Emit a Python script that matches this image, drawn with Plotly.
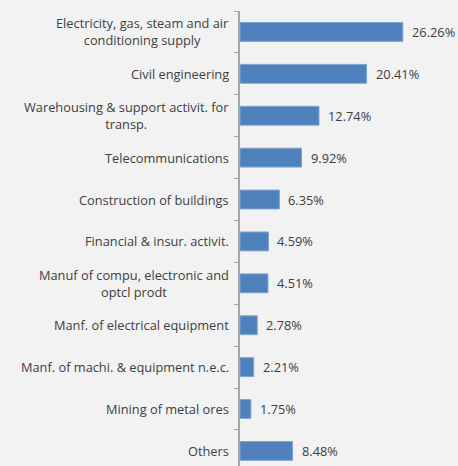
import plotly.graph_objects as go

categories = [
    "Electricity, gas, steam and air<br>conditioning supply",
    "Civil engineering",
    "Warehousing & support activit. for<br>transp.",
    "Telecommunications",
    "Construction of buildings",
    "Financial & insur. activit.",
    "Manuf of compu, electronic and<br>optcl prodt",
    "Manf. of electrical equipment",
    "Manf. of machi. & equipment n.e.c.",
    "Mining of metal ores",
    "Others",
]
shares = [26.26, 20.41, 12.74, 9.92, 6.35, 4.59, 4.51, 2.78, 2.21, 1.75, 8.48]

FONT = "Open Sans"
FONT_SIZE = 12.8
TEXT_COLOR = "#404040"
BAR_COLOR = "#4F81BD"
AXIS_COLOR = "#A6A6A6"

idx = list(range(len(categories)))

fig = go.Figure(
    go.Bar(
        x=shares,
        y=idx,
        orientation="h",
        width=0.45,
        marker=dict(color=BAR_COLOR, line=dict(color="#7FA3D1", width=1)),
        hoverinfo="skip",
    )
)

# value labels to the right of each bar
for i, v in zip(idx, shares):
    fig.add_annotation(
        x=v, y=i, xref="x", yref="y",
        text=f"{v:.2f}%", showarrow=False,
        xanchor="left", xshift=7,
        font=dict(family=FONT, size=FONT_SIZE, color=TEXT_COLOR),
    )

# category labels, centred line by line and right-aligned to the axis
for i, c in zip(idx, categories):
    fig.add_annotation(
        x=0, y=i, xref="paper", yref="y",
        text=c, showarrow=False,
        xanchor="right", xshift=-9, align="center",
        font=dict(family=FONT, size=FONT_SIZE, color=TEXT_COLOR),
    )

fig.update_layout(
    width=458, height=466,
    margin=dict(l=240, r=1, t=11, b=0),
    paper_bgcolor="#F2F2F2",
    plot_bgcolor="#F2F2F2",
    showlegend=False,
    xaxis=dict(range=[0, 35], visible=False, fixedrange=True),
    yaxis=dict(
        range=[10.36, -0.5],
        showticklabels=False,
        showgrid=False,
        zeroline=False,
        showline=True, linecolor=AXIS_COLOR, linewidth=2,
        ticks="outside", ticklen=4, tickcolor=AXIS_COLOR, tickwidth=1,
        tickvals=[i - 0.5 for i in range(len(categories) + 1)],
    ),
)

fig.write_html("out.html")
